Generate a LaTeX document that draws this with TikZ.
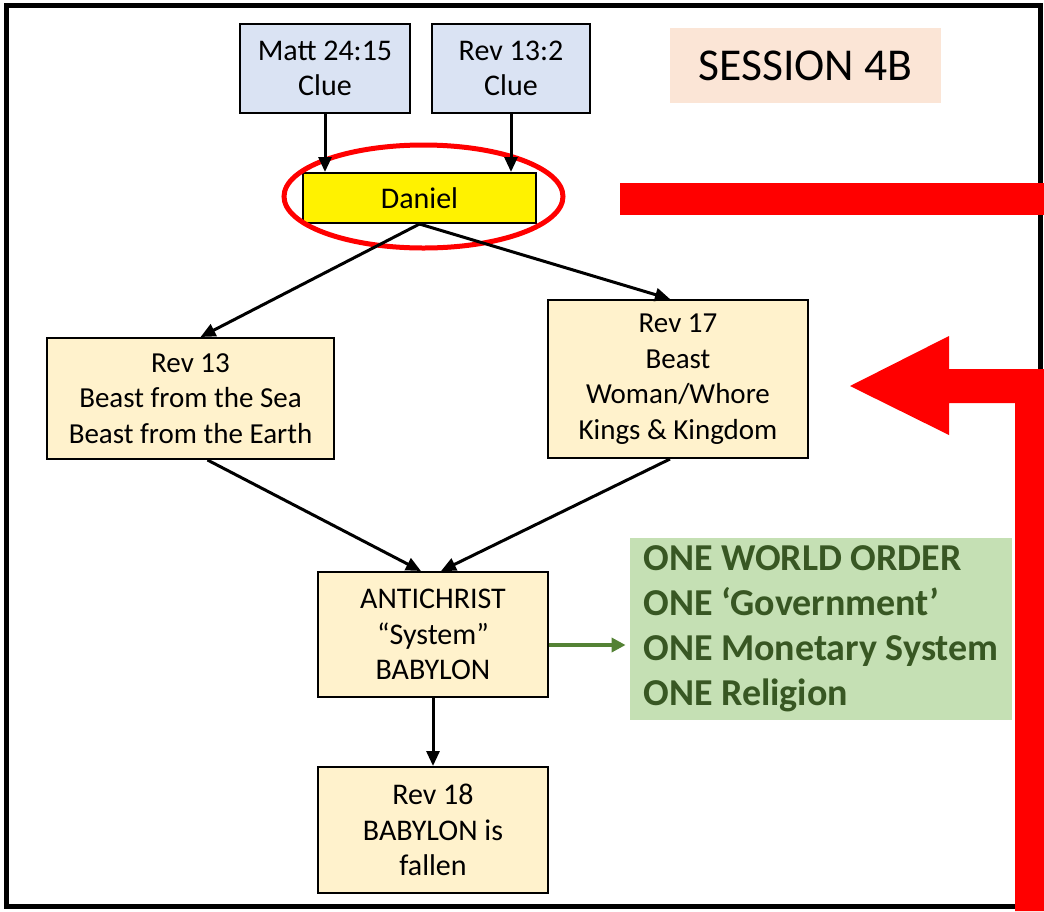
\documentclass[tikz,border=0pt]{standalone}
\usepackage{fontspec}
\setmainfont{Carlito}
\usetikzlibrary{arrows.meta,calc}

\definecolor{clueblue}{HTML}{DAE3F3}
\definecolor{cluebeige}{HTML}{FFF2CC}
\definecolor{sessionpeach}{HTML}{FBE5D6}
\definecolor{worldfill}{HTML}{C5E0B4}
\definecolor{worldtext}{HTML}{385723}
\definecolor{worldarrow}{HTML}{548235}

\begin{document}
\begin{tikzpicture}[x=0.5pt, y=-0.5pt,
        box/.style={draw=black, line width=1pt, align=center, inner sep=0pt, font=\fontsize{15}{17.75}\selectfont},
        link/.style={line width=1.5pt, -{Triangle[length=7.5pt, width=6.5pt]}}]
        \useasboundingbox (0, 0) rectangle (1044, 911);

        % Frame
        \draw[line width=2.5pt] (6, 5) rectangle (1040, 906);

        % Clues
        \node[box, fill=clueblue, minimum width=85pt, minimum height=44.5pt] (matt) at (325, 68.5) {Matt 24:15\\Clue};
        \node[box, fill=clueblue, minimum width=79pt, minimum height=44.5pt] (rev132) at (511, 68.5) {Rev 13:2\\Clue};
        \node[fill=sessionpeach, minimum width=135.5pt, minimum height=37.5pt, inner sep=0pt, font=\fontsize{22.8}{26}\selectfont] (session) at (805.5, 65.5) {SESSION 4B};

        % Daniel
        \node[box, fill=yellow, minimum width=116.5pt, minimum height=25pt] (daniel) at (419.5, 198) {Daniel};
        \draw[red, line width=2.5pt] ($(daniel.center)+(4, -1.5)$) ellipse (69.75pt and 25.75pt);

        % Beasts
        \node[box, fill=cluebeige, minimum width=143.5pt, minimum height=60.5pt, font=\fontsize{14.5}{17.75}\selectfont] (rev13) at (190.5, 398.5) {Rev 13\\Beast from the Sea\\Beast from the Earth};
        \node[box, fill=cluebeige, minimum width=130pt, minimum height=79pt, font=\fontsize{14.5}{17.75}\selectfont] (rev17) at (678, 379) {Rev 17\\Beast\\Woman/Whore\\Kings \& Kingdom};

        % System
        \node[box, fill=cluebeige, minimum width=115pt, minimum height=62.5pt] (antichrist) at (433, 634.5) {ANTICHRIST\\``System''\\BABYLON};
        \node[box, fill=cluebeige, minimum width=115pt, minimum height=63pt] (rev18) at (433, 830) {Rev 18\\BABYLON is\\fallen};
        \node[fill=worldfill, minimum width=191pt, minimum height=91pt, inner sep=0pt, align=left, text=worldtext, font=\bfseries\fontsize{19}{22.5}\selectfont] (world) at (821, 629) {ONE WORLD ORDER\\ONE `Government'\\ONE Monetary System\\ONE Religion};

        % Links
        \draw[link] (matt.south) -- (matt.south |- daniel.north);
        \draw[link] (rev132.south) -- (rev132.south |- daniel.north);
        \draw[link] (daniel.south) -- ($(rev13.north)+(10, 0)$);
        \draw[link] (daniel.south) -- ($(rev17.north)+(-8, 0)$);
        \draw[link] ($(rev13.south)+(17, 0)$) -- ($(antichrist.north)+(-12, 0)$);
        \draw[link] ($(rev17.south)+(-8, 0)$) -- ($(antichrist.north)+(8, 0)$);
        \draw[link] (antichrist.south) -- (rev18.north);
        \draw[worldarrow, line width=2pt, -{Triangle[length=7pt, width=7pt]}] ($(antichrist.east)+(0, 10.5)$) -- ($(world.west)+(-4, 16)$);

        % Red marks
        \fill[red] (620, 183) rectangle (1044, 215);
        \fill[red] (1044, 369) -- (949, 369) -- (949, 336) -- (850, 386) -- (949, 435) -- (949, 403) -- (1015, 403) -- (1015, 911) -- (1044, 911) -- cycle;
    \end{tikzpicture}
\end{document}
